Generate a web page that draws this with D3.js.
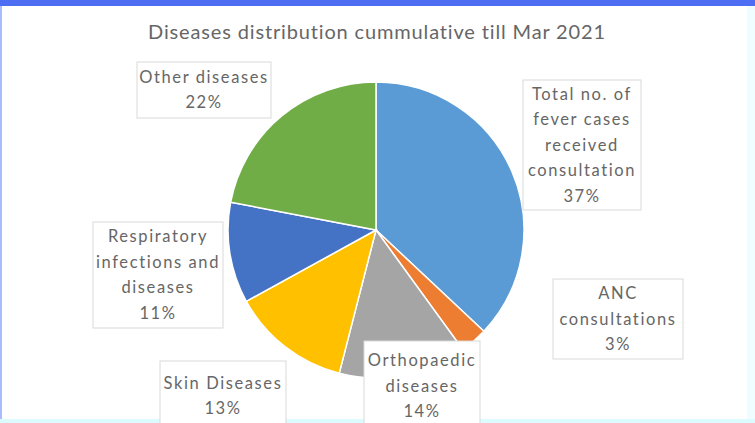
<!DOCTYPE html>
<html>
<head>
<meta charset="utf-8">
<script src="https://cdn.jsdelivr.net/npm/d3@7"></script>
<style>
  html, body { margin: 0; padding: 0; background: #fff; }
  svg { display: block; }
</style>
</head>
<body>
<svg id="chart" width="755" height="423"></svg>
<script>
// Disease categories, clockwise from 12 o'clock
const categories = [
  "Total no. of fever cases received consultation",
  "ANC consultations",
  "Orthopaedic diseases",
  "Skin Diseases",
  "Respiratory infections and diseases",
  "Other diseases"
];
// Share of consultations, percent
const values = [37, 3, 14, 13, 11, 22];
// Wrapped label text (name lines); the percent line is appended from values
const labelLines = [
  ["Total no. of", "fever cases", "received", "consultation"],
  ["ANC", "consultations"],
  ["Orthopaedic", "diseases"],
  ["Skin Diseases"],
  ["Respiratory", "infections and", "diseases"],
  ["Other diseases"]
];
const title = "Diseases distribution cummulative till Mar 2021";

// Office palette
const colors = ["#5B9BD5", "#ED7D31", "#A5A5A5", "#FFC000", "#4472C4", "#70AD47"];

// Callout boxes: left, top, width, height
const labelBoxes = [
  { x: 523, y: 80,  w: 118, h: 130 },
  { x: 553, y: 279, w: 130, h: 80 },
  { x: 364, y: 341, w: 116, h: 90 },
  { x: 160, y: 361, w: 126, h: 70 },
  { x: 93,  y: 222, w: 130, h: 106 },
  { x: 137, y: 62,  w: 134, h: 56 }
];

const svg = d3.select("#chart");
const W = 755, H = 423;

svg.append("rect").attr("width", W).attr("height", H).attr("fill", "#fff");

// Window frame edges
svg.append("rect").attr("x", 0).attr("y", 0).attr("width", W).attr("height", 6).attr("fill", "#4d6ef2");
svg.append("rect").attr("x", 0).attr("y", 6).attr("width", 2).attr("height", H - 6).attr("fill", "#a9bcff");
svg.append("rect").attr("x", 747).attr("y", 6).attr("width", 8).attr("height", H - 6).attr("fill", "#effdff");
svg.append("rect").attr("x", 0).attr("y", 419).attr("width", W).attr("height", 4).attr("fill", "#dcfbff");

const font = "Lato, 'Open Sans', sans-serif";
const textColor = "#666666";

svg.append("text")
  .attr("x", 377).attr("y", 39)
  .attr("text-anchor", "middle")
  .attr("font-family", font)
  .attr("font-size", 20)
  .attr("letter-spacing", 0.85)
  .attr("fill", textColor)
  .text(title);

const cx = 376, cy = 230, r = 148;

const pie = d3.pie().sort(null).value(d => d.value);
const arc = d3.arc().innerRadius(0).outerRadius(r);
const data = categories.map((c, i) => ({ name: c, value: values[i], i }));

const g = svg.append("g").attr("transform", `translate(${cx},${cy})`);
g.selectAll("path")
  .data(pie(data))
  .join("path")
  .attr("d", arc)
  .attr("fill", d => colors[d.data.i])
  .attr("stroke", "#fff")
  .attr("stroke-width", 1.5);

// Data label callouts
const lineH = 25.5;
labelBoxes.forEach((b, i) => {
  const lines = labelLines[i].concat([values[i] + "%"]);
  const lg = svg.append("g");
  lg.append("rect")
    .attr("x", b.x).attr("y", b.y)
    .attr("width", b.w).attr("height", b.h)
    .attr("fill", "#fff")
    .attr("stroke", "#d9d9d9")
    .attr("stroke-width", 1);
  const totalH = lines.length * lineH;
  const startY = b.y + (b.h - totalH) / 2 + lineH * 0.72;
  lg.selectAll("text")
    .data(lines)
    .join("text")
    .attr("x", b.x + b.w / 2)
    .attr("y", (d, k) => startY + k * lineH)
    .attr("text-anchor", "middle")
    .attr("font-family", font)
    .attr("font-size", 16.5)
    .attr("letter-spacing", 1.6)
    .attr("fill", textColor)
    .text(d => d);
});
</script>
</body>
</html>
